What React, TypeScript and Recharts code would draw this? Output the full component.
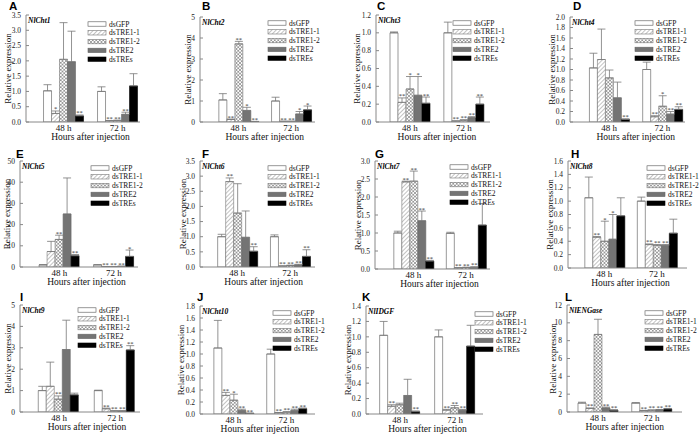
import React from 'react';
import { BarChart, Bar, XAxis, YAxis, ErrorBar, LabelList } from 'recharts';

const timePoints = ['48 h', '72 h'];
const treatments = ['dsGFP', 'dsTRE1-1', 'dsTRE1-2', 'dsTRE2', 'dsTREs'];
const xTitle = 'Hours after injection';
const yTitle = 'Relative expression';

// mean[time][treatment], err[time][treatment], sig[time][treatment]
const cht1Mean = [[1.02, 0.28, 2.05, 1.97, 0.2], [1.0, 0.04, 0.05, 0.25, 1.18]];
const cht1Err = [[0.2, 0.08, 1.2, 1.0, 0.03], [0.15, 0.01, 0.01, 0.07, 0.4]];
const cht1Sig = [['', '*', '', '', '**'], ['', '**', '**', '**', '']];
const cht1Ticks = [0, 0.5, 1.0, 1.5, 2.0, 2.5, 3.0, 3.5];

const cht2Mean = [[1.05, 0.12, 3.72, 0.55, 0.02], [1.0, 0.03, 0.03, 0.38, 0.58]];
const cht2Err = [[0.3, 0.02, 0.12, 0.15, 0.01], [0.18, 0.01, 0.01, 0.12, 0.18]];
const cht2Sig = [['', '**', '**', '*', '**'], ['', '**', '**', '*', '*']];
const cht2Ticks = [0, 1, 2, 3, 4, 5];

const cht3Mean = [[1.0, 0.22, 0.37, 0.3, 0.21], [1.0, 0.01, 0.02, 0.05, 0.2]];
const cht3Err = [[0.01, 0.05, 0.14, 0.21, 0.07], [0.12, 0.003, 0.005, 0.01, 0.08]];
const cht3Sig = [['', '**', '*', '*', '**'], ['', '**', '**', '**', '**']];
const cht3Ticks = [0, 0.2, 0.4, 0.6, 0.8, 1.0, 1.2];

const cht4Mean = [[1.03, 1.19, 0.84, 0.46, 0.05], [1.0, 0.1, 0.3, 0.15, 0.24]];
const cht4Err = [[0.28, 0.58, 0.15, 0.3, 0.01], [0.14, 0.02, 0.2, 0.05, 0.05]];
const cht4Sig = [['', '', '', '', '**'], ['', '**', '*', '**', '**']];
const cht4Ticks = [0, 0.2, 0.4, 0.6, 0.8, 1.0, 1.2, 1.4, 1.6, 1.8, 2.0];

const cht5Mean = [[1.0, 7.3, 13, 25, 5.3], [1.0, 0.2, 0.2, 0.3, 5.0]];
const cht5Err = [[0.1, 4.8, 2.0, 17, 0.6], [0.1, 0.05, 0.05, 0.1, 3.0]];
const cht5Sig = [['', '', '**', '', '**'], ['', '**', '**', '**', '*']];
const cht5Ticks = [0, 10, 20, 30, 40, 50];

const cht6Mean = [[1.0, 2.82, 1.78, 0.98, 0.52], [1.0, 0.03, 0.05, 0.07, 0.35]];
const cht6Err = [[0.08, 0.12, 0.97, 0.87, 0.15], [0.06, 0.01, 0.01, 0.02, 0.22]];
const cht6Sig = [['', '**', '', '', '**'], ['', '**', '**', '**', '**']];
const cht6Ticks = [0, 0.5, 1.0, 1.5, 2.0, 2.5, 3.0, 3.5];

const cht7Mean = [[1.0, 2.42, 2.44, 1.34, 0.22], [0.99, 0.03, 0.04, 0.05, 1.22]];
const cht7Err = [[0.05, 0.02, 0.28, 0.27, 0.02], [0.03, 0.01, 0.01, 0.01, 0.6]];
const cht7Sig = [['', '**', '**', '**', '**'], ['', '**', '**', '**', '']];
const cht7Ticks = [0, 0.5, 1.0, 1.5, 2.0, 2.5, 3.0];

const cht8Mean = [[1.05, 0.46, 0.4, 0.43, 0.78], [1.0, 0.35, 0.34, 0.34, 0.52]];
const cht8Err = [[0.31, 0.01, 0.3, 0.37, 0.27], [0.06, 0.01, 0.01, 0.01, 0.21]];
const cht8Sig = [['', '**', '*', '*', ''], ['', '**', '**', '**', '']];
const cht8Ticks = [0, 0.2, 0.4, 0.6, 0.8, 1.0, 1.2, 1.4, 1.6];

const cht9Mean = [[1.0, 1.2, 0.6, 2.92, 0.8], [1.0, 0.15, 0.05, 0.05, 2.9]];
const cht9Err = [[0.2, 1.13, 0.15, 1.37, 0.08], [0.02, 0.03, 0.01, 0.01, 0.2]];
const cht9Sig = [['', '', '**', '', ''], ['', '**', '**', '**', '**']];
const cht9Ticks = [0, 1, 2, 3, 4, 5];

const cht10Mean = [[1.1, 0.31, 0.23, 0.06, 0.01], [1.0, 0.02, 0.03, 0.06, 0.09]];
const cht10Err = [[0.46, 0.05, 0.1, 0.02, 0.005], [0.08, 0.005, 0.01, 0.02, 0.01]];
const cht10Sig = [['', '**', '*', '**', '**'], ['', '**', '**', '**', '**']];
const cht10Ticks = [0, 0.2, 0.4, 0.6, 0.8, 1.0, 1.2, 1.4, 1.6, 1.8];

const idgfMean = [[1.02, 0.1, 0.12, 0.24, 0.03], [1.0, 0.05, 0.08, 0.05, 0.88]];
const idgfErr = [[0.18, 0.02, 0.02, 0.21, 0.01], [0.09, 0.01, 0.03, 0.01, 0.27]];
const idgfSig = [['', '**', '', '', '**'], ['', '**', '**', '**', '']];
const idgfTicks = [0, 0.2, 0.4, 0.6, 0.8, 1.0, 1.2, 1.4];

const engMean = [[1.0, 0.4, 8.7, 0.45, 0.2], [1.0, 0.15, 0.2, 0.25, 0.35]];
const engErr = [[0.1, 0.05, 1.7, 0.1, 0.05], [0.05, 0.03, 0.03, 0.03, 0.05]];
const engSig = [['', '**', '', '**', '**'], ['', '**', '**', '**', '**']];
const engTicks = [0, 2, 4, 6, 8, 10, 12];

const SERIF = '"Liberation Serif", "Times New Roman", serif';
const SANS = '"Liberation Sans", Arial, sans-serif';
const fills = ['#ffffff', 'url(#hatchDiag)', 'url(#hatchCross)', '#747474', '#000000'];
const strokes = ['#555555', '#777777', '#777777', '#666666', '#000000'];

type Panel = {
  letter: string; gene: string; mean: number[][]; err: number[][]; sig: string[][];
  ticks: number[]; dec: number; lx: number; ly: number;
  axisX: number; top: number; bottom: number; right: number; padL: number; padR: number;
  labelX: number; legX: number; legY: number;
};

const panels: Panel[] = [
  { letter: 'A', gene: 'NlCht1', mean: cht1Mean, err: cht1Err, sig: cht1Sig, ticks: cht1Ticks, dec: 1, lx: 9, ly: 9.5, axisX: 26, top: 15, bottom: 122, right: 140, padL: 10.5, padR: -4.5, labelX: 8.3, legX: 88, legY: 24 },
  { letter: 'B', gene: 'NlCht2', mean: cht2Mean, err: cht2Err, sig: cht2Sig, ticks: cht2Ticks, dec: 0, lx: 202, ly: 9.5, axisX: 200, top: 17, bottom: 122, right: 315, padL: 12, padR: -2.4, labelX: 188, legX: 268, legY: 23 },
  { letter: 'C', gene: 'NlCht3', mean: cht3Mean, err: cht3Err, sig: cht3Sig, ticks: cht3Ticks, dec: 1, lx: 377, ly: 9.5, axisX: 376, top: 15, bottom: 122, right: 490, padL: 7, padR: -0.7, labelX: 357, legX: 453, legY: 23 },
  { letter: 'D', gene: 'NlCht4', mean: cht4Mean, err: cht4Err, sig: cht4Sig, ticks: cht4Ticks, dec: 1, lx: 573, ly: 9.5, axisX: 570, top: 17, bottom: 122, right: 685, padL: 12.5, padR: -4, labelX: 552.3, legX: 635, legY: 23 },
  { letter: 'E', gene: 'NlCht5', mean: cht5Mean, err: cht5Err, sig: cht5Sig, ticks: cht5Ticks, dec: 0, lx: 16, ly: 157.5, axisX: 20, top: 161, bottom: 267, right: 138, padL: 12, padR: -3, labelX: 6.5, legX: 91, legY: 168 },
  { letter: 'F', gene: 'NlCht6', mean: cht6Mean, err: cht6Err, sig: cht6Sig, ticks: cht6Ticks, dec: 1, lx: 202, ly: 157.5, axisX: 200, top: 161, bottom: 267, right: 315, padL: 10.8, padR: -1.4, labelX: 182.5, legX: 268, legY: 168 },
  { letter: 'G', gene: 'NlCht7', mean: cht7Mean, err: cht7Err, sig: cht7Sig, ticks: cht7Ticks, dec: 1, lx: 375, ly: 157.5, axisX: 375, top: 161, bottom: 269, right: 490, padL: 12, padR: -2, labelX: 357.5, legX: 450, legY: 167 },
  { letter: 'H', gene: 'NlCht8', mean: cht8Mean, err: cht8Err, sig: cht8Sig, ticks: cht8Ticks, dec: 1, lx: 571, ly: 157.5, axisX: 568, top: 161, bottom: 268, right: 687, padL: 10, padR: 4, labelX: 550, legX: 647, legY: 168 },
  { letter: 'I', gene: 'NlCht9', mean: cht9Mean, err: cht9Err, sig: cht9Sig, ticks: cht9Ticks, dec: 0, lx: 20, ly: 300.5, axisX: 20, top: 305, bottom: 412, right: 140, padL: 11, padR: -3, labelX: 8.3, legX: 78, legY: 310 },
  { letter: 'J', gene: 'NlCht10', mean: cht10Mean, err: cht10Err, sig: cht10Sig, ticks: cht10Ticks, dec: 1, lx: 197, ly: 300.5, axisX: 200, top: 306, bottom: 414, right: 315, padL: 7, padR: 2.3, labelX: 181, legX: 273, legY: 313 },
  { letter: 'K', gene: 'NlIDGF', mean: idgfMean, err: idgfErr, sig: idgfSig, ticks: idgfTicks, dec: 1, lx: 362, ly: 300.5, axisX: 366, top: 306, bottom: 414, right: 483, padL: 6.5, padR: 0.5, labelX: 348, legX: 475, legY: 314 },
  { letter: 'L', gene: 'NlENGase', mean: engMean, err: engErr, sig: engSig, ticks: engTicks, dec: 0, lx: 565, ly: 300.5, axisX: 567, top: 305, bottom: 412, right: 682, padL: 4, padR: 3.5, labelX: 552.5, legX: 645, legY: 313 },
];

function buildRows(p: Panel) {
  return timePoints.map((t, ti) => {
    const row: any = { time: t };
    treatments.forEach((_, si) => {
      row['v' + si] = p.mean[ti][si];
      row['e' + si] = [0, p.err[ti][si]];
      row['s' + si] = p.sig[ti][si];
    });
    return row;
  });
}

const sigLabel = (rows: any[], si: number) => (props: any) => {
  const vb = props.viewBox && props.viewBox.width !== undefined ? props.viewBox : props;
  const x = Number(vb.x), y = Number(vb.y), w = Number(vb.width), h = Number(vb.height);
  const value = props.value;
  if (!value) return null;
  const row = rows[props.index] || props.payload;
  if (!row) return null;
  const v = row['v' + si];
  const e = row['e' + si][1];
  const top = Math.min(y, y + h);
  const ph = Math.abs(h);
  const errTop = v > 0 ? top - (e * ph) / v : top;
  return (
    <text x={x + w / 2} y={errTop + 0.5} textAnchor="middle" fontSize={6.5} fontFamily={SERIF} fill="#333">
      {value}
    </text>
  );
};

function PanelChart({ p }: { p: Panel }) {
  const rows = buildRows(p);
  const chartLeft = p.axisX - 30;
  const chartTop = p.top - 10;
  const width = p.right + 10 - chartLeft;
  const height = p.bottom + 30 - chartTop;
  const max = p.ticks[p.ticks.length - 1];
  return (
    <div style={{ position: 'absolute', left: chartLeft, top: chartTop }}>
      <BarChart width={width} height={height} data={rows} margin={{ top: 10, right: 10, bottom: 0, left: 0 }} barGap={0} barCategoryGap="13%">
        <XAxis dataKey="time" height={30} tickSize={0} tickMargin={2.5} tickLine={false} axisLine={{ stroke: '#888' }}
          padding={{ left: p.padL, right: p.padR }} interval={0}
          tick={{ fontSize: 9, fill: '#111', fontFamily: SERIF }} />
        <YAxis width={30} type="number" domain={[0, max]} ticks={p.ticks} allowDataOverflow interval={0}
          tickFormatter={(v: number) => v.toFixed(p.dec)} tickSize={-3} tickMargin={8}
          axisLine={{ stroke: '#888' }} tickLine={{ stroke: '#888' }}
          tick={{ fontSize: 7.5, fill: '#222', fontFamily: SERIF }} />
        {treatments.map((t, si) => (
          <Bar key={t} dataKey={'v' + si} fill={fills[si]} stroke={strokes[si]} strokeWidth={0.6} isAnimationActive={false}>
            <ErrorBar dataKey={'e' + si} width={4} stroke="#777" strokeWidth={0.8} direction="y" />
            <LabelList dataKey={'s' + si} content={sigLabel(rows, si)} />
          </Bar>
        ))}
      </BarChart>
    </div>
  );
}

function Overlay() {
  return (
    <svg width={700} height={438} style={{ position: 'absolute', left: 0, top: 0, pointerEvents: 'none' }}>
      {panels.map((p) => {
        const bandStart = p.axisX + p.padL;
        const bandEnd = p.right - p.padR;
        const midY = (p.top + p.bottom) / 2;
        return (
          <g key={p.letter}>
            <text x={p.lx} y={p.ly} fontFamily={SANS} fontWeight="bold" fontSize={11.5} fill="#000">{p.letter}</text>
            <text x={p.axisX + 2} y={p.top + 8} fontFamily={SERIF} fontWeight="bold" fontStyle="italic" fontSize={7.5} fill="#000">{p.gene}</text>
            <text transform={`translate(${p.labelX + 3},${midY}) rotate(-90)`} textAnchor="middle" fontFamily={SERIF} fontSize={9} fill="#111">{yTitle}</text>
            <text x={(bandStart + bandEnd) / 2} y={p.bottom + 17.5} textAnchor="middle" fontFamily={SERIF} fontSize={9.5} fill="#111">{xTitle}</text>
            {treatments.map((t, si) => (
              <g key={t}>
                <rect x={p.legX} y={p.legY + si * 8.8 - 2.2} width={18} height={4.4} fill={fills[si]} stroke={strokes[si]} strokeWidth={0.6} />
                <text x={p.legX + 21} y={p.legY + si * 8.8 + 2.6} fontFamily={SERIF} fontSize={7.5} fill="#111">{t}</text>
              </g>
            ))}
          </g>
        );
      })}
    </svg>
  );
}

export default function App() {
  return (
    <div style={{ position: 'absolute', left: 0, top: 0, width: 700, height: 438, background: '#fff', overflow: 'hidden' }}>
      <svg width={0} height={0} style={{ position: 'absolute' }}>
        <defs>
          <pattern id="hatchDiag" patternUnits="userSpaceOnUse" width={3} height={3} patternTransform="rotate(45)">
            <rect width={3} height={3} fill="#fff" />
            <line x1={0} y1={0} x2={0} y2={3} stroke="#666" strokeWidth={0.8} />
          </pattern>
          <pattern id="hatchCross" patternUnits="userSpaceOnUse" width={3.5} height={3.5}>
            <rect width={3.5} height={3.5} fill="#fff" />
            <path d="M0,0 L3.5,3.5 M3.5,0 L0,3.5" stroke="#666" strokeWidth={0.6} />
          </pattern>
        </defs>
      </svg>
      {panels.map((p) => (
        <PanelChart key={p.letter} p={p} />
      ))}
      <Overlay />
    </div>
  );
}
